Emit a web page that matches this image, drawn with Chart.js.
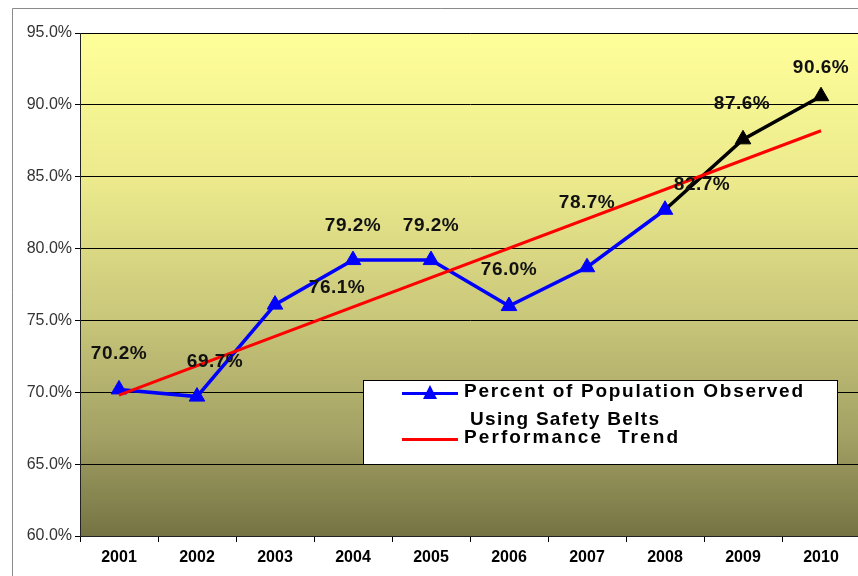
<!DOCTYPE html>
<html>
<head>
<meta charset="utf-8">
<script src="https://cdn.jsdelivr.net/npm/chart.js@4"></script>
<style>
  html, body { margin: 0; padding: 0; background: #fff; overflow: hidden; }
  #wrap { width: 870px; height: 576px; position: relative; }
</style>
</head>
<body>
<div id="wrap"><canvas id="c" width="870" height="576"></canvas></div>
<script>
// ---- data ----
const years = ['2001','2002','2003','2004','2005','2006','2007','2008','2009','2010'];
const beltUse = [70.2, 69.7, 76.1, 79.2, 79.2, 76.0, 78.7, 82.7, 87.6, 90.6];
const trendValues = [69.8, null, null, null, null, null, null, null, null, 88.2];
const yTicks = [60, 65, 70, 75, 80, 85, 90, 95];
const seriesName = ['Percent of Population Observed', 'Using Safety Belts'];
const trendName = 'Performance  Trend';

// ---- styles ----
const BLUE = '#0000FF', BLACK = '#000000', RED = '#FF0000';
const blackFrom = 7; // segments from 2008 on are black
const labelOffsets = [[0,-36],[18,-35],[62,-17],[0,-34],[0,-34],[0,-36],[0,-64],[37,-25],[-1,-36],[0,-28]];

const framePlugin = {
  id: 'frame',
  beforeDraw(chart) {
    const ctx = chart.ctx, a = chart.chartArea;
    ctx.save();
    ctx.fillStyle = '#fff';
    ctx.fillRect(0, 0, chart.width, chart.height);
    ctx.strokeStyle = '#8a8a8a';
    ctx.lineWidth = 1;
    ctx.beginPath();
    ctx.moveTo(12.5, chart.height);
    ctx.lineTo(12.5, 8.5);
    ctx.lineTo(chart.width, 8.5);
    ctx.stroke();
    const g = ctx.createLinearGradient(0, a.top, 0, a.bottom);
    g.addColorStop(0, '#FFFF9A');
    g.addColorStop(0.3, '#EBE98C');
    g.addColorStop(0.55, '#CBC97B');
    g.addColorStop(0.8, '#A3A164');
    g.addColorStop(1, '#757343');
    ctx.fillStyle = g;
    ctx.fillRect(a.left, a.top, a.right - a.left, a.bottom - a.top);
    ctx.strokeStyle = '#999';
    ctx.beginPath();
    ctx.moveTo(a.left, a.top + 0.5);
    ctx.lineTo(a.right, a.top + 0.5);
    ctx.stroke();
    ctx.restore();
  }
};

function fitSpacing(ctx, text, target) {
  ctx.letterSpacing = '0px';
  const w = ctx.measureText(text).width;
  const s = (target - w) / Math.max(1, text.length - 1);
  return s > 0 ? s : 0;
}

const labelPlugin = {
  id: 'valueLabels',
  afterDatasetsDraw(chart) {
    const meta = chart.getDatasetMeta(1);
    const ctx = chart.ctx;
    ctx.save();
    ctx.font = 'bold 19px "Liberation Sans", Arial, sans-serif';
    ctx.fillStyle = '#111';
    ctx.textAlign = 'center';
    ctx.textBaseline = 'middle';
    meta.data.forEach((pt, i) => {
      const txt = beltUse[i].toFixed(1) + '%';
      ctx.letterSpacing = '0.5px';
      const o = labelOffsets[i];
      ctx.fillText(txt, pt.x + o[0], pt.y + o[1]);
    });
    ctx.restore();
  }
};

const legendPlugin = {
  id: 'boxLegend',
  afterDraw(chart) {
    const ctx = chart.ctx;
    ctx.save();
    const x0 = 363, y0 = 380, x1 = 837, y1 = 464;
    ctx.fillStyle = '#fff';
    ctx.fillRect(x0, y0, x1 - x0, y1 - y0);
    ctx.strokeStyle = '#000';
    ctx.lineWidth = 1;
    ctx.strokeRect(x0 + 0.5, y0 + 0.5, x1 - x0, y1 - y0);
    // series 1 symbol
    ctx.strokeStyle = BLUE;
    ctx.lineWidth = 3;
    ctx.beginPath(); ctx.moveTo(402, 393.5); ctx.lineTo(458, 393.5); ctx.stroke();
    ctx.fillStyle = BLUE;
    ctx.beginPath(); ctx.moveTo(430, 385); ctx.lineTo(437, 399); ctx.lineTo(423, 399); ctx.closePath(); ctx.fill();
    // trend symbol
    ctx.strokeStyle = RED;
    ctx.beginPath(); ctx.moveTo(402, 439.5); ctx.lineTo(458, 439.5); ctx.stroke();
    // text
    ctx.fillStyle = '#000';
    ctx.font = 'bold 19px "Liberation Sans", Arial, sans-serif';
    ctx.textBaseline = 'middle';
    ctx.textAlign = 'left';
    let s = fitSpacing(ctx, seriesName[0], 339);
    ctx.letterSpacing = s + 'px';
    ctx.fillText(seriesName[0], 464, 392);
    s = fitSpacing(ctx, seriesName[1], 189);
    ctx.letterSpacing = s + 'px';
    ctx.fillText(seriesName[1], 470, 420);
    s = fitSpacing(ctx, trendName, 214);
    ctx.letterSpacing = s + 'px';
    ctx.fillText(trendName, 464, 438);
    ctx.restore();
  }
};

const pointColors = beltUse.map((v, i) => i > blackFrom ? BLACK : BLUE);

new Chart(document.getElementById('c'), {
  type: 'line',
  data: {
    labels: years,
    datasets: [
      {
        label: trendName,
        data: trendValues,
        borderColor: RED,
        borderWidth: 3,
        pointRadius: 0,
        spanGaps: true,
        tension: 0
      },
      {
        label: seriesName.join(' '),
        data: beltUse,
        borderColor: BLUE,
        borderWidth: 3.5,
        segment: {
          borderColor: c => c.p0DataIndex >= blackFrom ? BLACK : BLUE
        },
        pointStyle: 'triangle',
        pointRadius: 9,
        pointBackgroundColor: pointColors,
        pointBorderColor: pointColors,
        pointBorderWidth: 1,
        tension: 0
      }
    ]
  },
  options: {
    responsive: false,
    animation: false,
    layout: { padding: { left: 0, top: 33, right: 0, bottom: 0 } },
    plugins: {
      legend: { display: false },
      tooltip: { enabled: false }
    },
    scales: {
      x: {
        offset: true,
        grid: {
          offset: true,
          drawOnChartArea: false,
          drawTicks: true,
          tickLength: 6,
          color: '#000'
        },
        border: { color: '#222', width: 1 },
        ticks: {
          color: '#000',
          padding: 6,
          font: { family: '"Liberation Sans", Arial, sans-serif', size: 16, weight: 'bold' }
        },
        afterFit(scale) { scale.height = 40; }
      },
      y: {
        min: 60,
        max: 95,
        afterBuildTicks(scale) { scale.ticks = yTicks.map(v => ({ value: v })); },
        grid: {
          color: '#000',
          lineWidth: 1,
          drawTicks: true,
          tickLength: 5
        },
        border: { color: '#222', width: 1 },
        ticks: {
          color: '#333',
          padding: 3,
          font: { family: '"Liberation Sans", Arial, sans-serif', size: 16 },
          callback: v => v.toFixed(1) + '%'
        },
        afterFit(scale) { scale.width = 80; }
      }
    }
  },
  plugins: [framePlugin, labelPlugin, legendPlugin]
});
</script>
</body>
</html>
